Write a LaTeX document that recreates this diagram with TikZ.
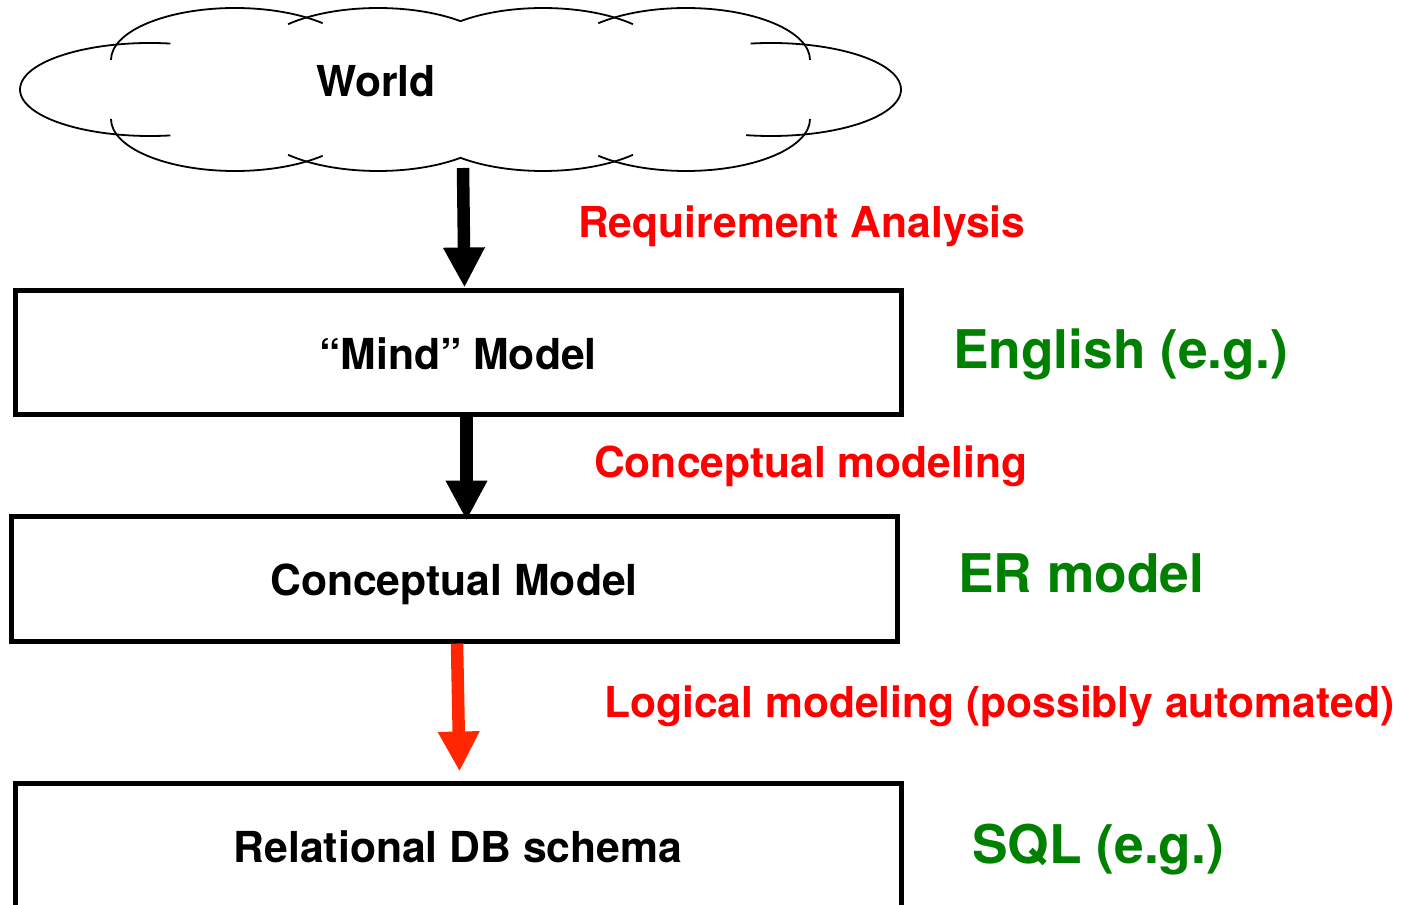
\documentclass[tikz,border=0pt]{standalone}
\usepackage{fontspec}
\setmainfont{TeX Gyre Heros}
\usetikzlibrary{arrows.meta}
\definecolor{lblred}{RGB}{255,0,0}
\definecolor{arrred}{RGB}{255,38,0}
\definecolor{lblgreen}{RGB}{0,128,0}
\newcommand\cloudarc[6]{\draw[cloudline] ([shift={(#3:#5pt and #6pt)}]#1,#2) arc[start angle=#3, end angle=#4, x radius=#5pt, y radius=#6pt];}
\begin{document}
\begin{tikzpicture}[x=1pt,y=1pt,
  box/.style={draw, line width=5pt, minimum width=886pt, inner sep=0pt,
    font=\fontsize{42.7}{50}\selectfont\bfseries, text depth=0pt},
  proc/.style={anchor=base west, inner sep=0pt, font=\fontsize{42.6}{50}\selectfont\bfseries, text=lblred},
  lang/.style={anchor=base west, inner sep=0pt, font=\fontsize{53.3}{60}\selectfont\bfseries, text=lblgreen},
  bigarrow/.style={line width=12.5pt, -{Triangle[length=40pt,width=39pt]}},
  cloudline/.style={line width=1.8pt}
]
\useasboundingbox (0,-904) rectangle (1412,0);
\clip (0,-904) rectangle (1412,0);
% cloud
\cloudarc{150}{-89.5}{81}{279}{130}{46.5}
\cloudarc{771}{-89.5}{99}{-101}{130}{46.5}
\cloudarc{235}{-60}{180}{45}{124}{52}
\cloudarc{378}{-60}{136.5}{48}{124}{52}
\cloudarc{543}{-60}{132}{43.5}{124}{52}
\cloudarc{686}{-60}{135}{0}{124}{52}
\cloudarc{235}{-119}{180}{315}{124}{52}
\cloudarc{378}{-119}{223.5}{312}{124}{52}
\cloudarc{543}{-119}{228}{316.5}{124}{52}
\cloudarc{686}{-119}{225}{360}{124}{52}
\node[anchor=base west, inner sep=0pt, font=\fontsize{42.6}{50}\selectfont\bfseries] (world) at (316,-97) {World};
\coordinate (cb) at (463,-168);
% boxes
\node[box, minimum height=124pt, text height=35pt] (mind) at (458,-352) {``Mind'' Model};
\node[box, minimum height=125pt, text height=33pt] (concept) at (454,-578.5) {Conceptual Model};
\node[box, minimum height=129pt, text height=30pt] (schema) at (458,-847.5) {Relational DB schema};
% arrows
\draw[bigarrow] (cb) -- ([xshift=6.5pt]mind.north);
\draw[bigarrow] ([xshift=8.5pt]mind.south) -- ([xshift=12.5pt,yshift=-7pt]concept.north);
\draw[bigarrow, arrred] ([xshift=3pt]concept.south) -- ([xshift=1.5pt,yshift=9pt]schema.north);
% labels
\node[proc] (req) at (578,-237) {Requirement Analysis};
\node[proc] (cm) at (594,-477) {Conceptual modeling};
\node[proc] (lm) at (604,-717) {Logical modeling (possibly automated)};
\node[lang] (en) at (953,-368) {English (e.g.)};
\node[lang] (er) at (958,-592) {ER model};
\node[lang] (sql) at (972,-863) {SQL (e.g.)};
\end{tikzpicture}
\end{document}
